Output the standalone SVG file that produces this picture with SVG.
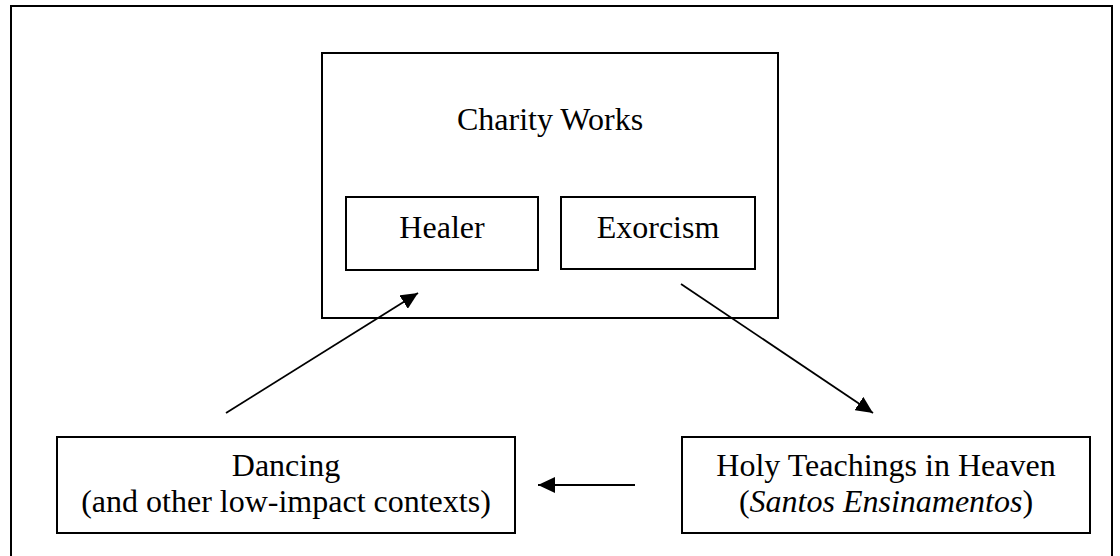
<svg xmlns="http://www.w3.org/2000/svg" width="1120" height="556" viewBox="0 0 1120 556">
<style>
.box{fill:#fff;stroke:#000;stroke-width:2}
.t{font-family:"Liberation Serif","Times New Roman",serif;font-size:32px;fill:#000;text-anchor:middle}
.c{stroke:#000;stroke-width:1.8;fill:none;marker-end:url(#ah)}
</style>
<defs>
<marker id="ah" markerUnits="userSpaceOnUse" markerWidth="18" markerHeight="16" refX="17" refY="8" orient="auto">
<path d="M0,0 L17,8 L0,16 z" fill="#000"/>
</marker>
</defs>
<rect width="1120" height="556" fill="#fff"/>
<g id="frame"><rect x="11" y="6" width="1101" height="600" fill="none" stroke="#000" stroke-width="2"/></g>
<g id="charity-works">
<rect class="box" x="322" y="53" width="456" height="265"/>
<text class="t" x="550" y="130">Charity Works</text>
</g>
<g id="healer">
<rect class="box" x="346" y="197" width="192" height="73"/>
<text class="t" x="442" y="238">Healer</text>
</g>
<g id="exorcism">
<rect class="box" x="561" y="197" width="194" height="72"/>
<text class="t" x="658" y="238">Exorcism</text>
</g>
<g id="dancing">
<rect class="box" x="57" y="437" width="458" height="96"/>
<text class="t" x="286" y="476">Dancing</text>
<text class="t" x="286" y="512">(and other low-impact contexts)</text>
</g>
<g id="holy-teachings">
<rect class="box" x="682" y="437" width="408" height="96"/>
<text class="t" x="886" y="476">Holy Teachings in Heaven</text>
<text class="t" x="886" y="512">(<tspan font-style="italic">Santos Ensinamentos</tspan>)</text>
</g>
<g id="connectors">
<line class="c" x1="226" y1="413" x2="418" y2="293"/>
<line class="c" x1="681" y1="284" x2="873" y2="413"/>
<line class="c" x1="635" y1="485" x2="538" y2="485"/>
</g>
</svg>
